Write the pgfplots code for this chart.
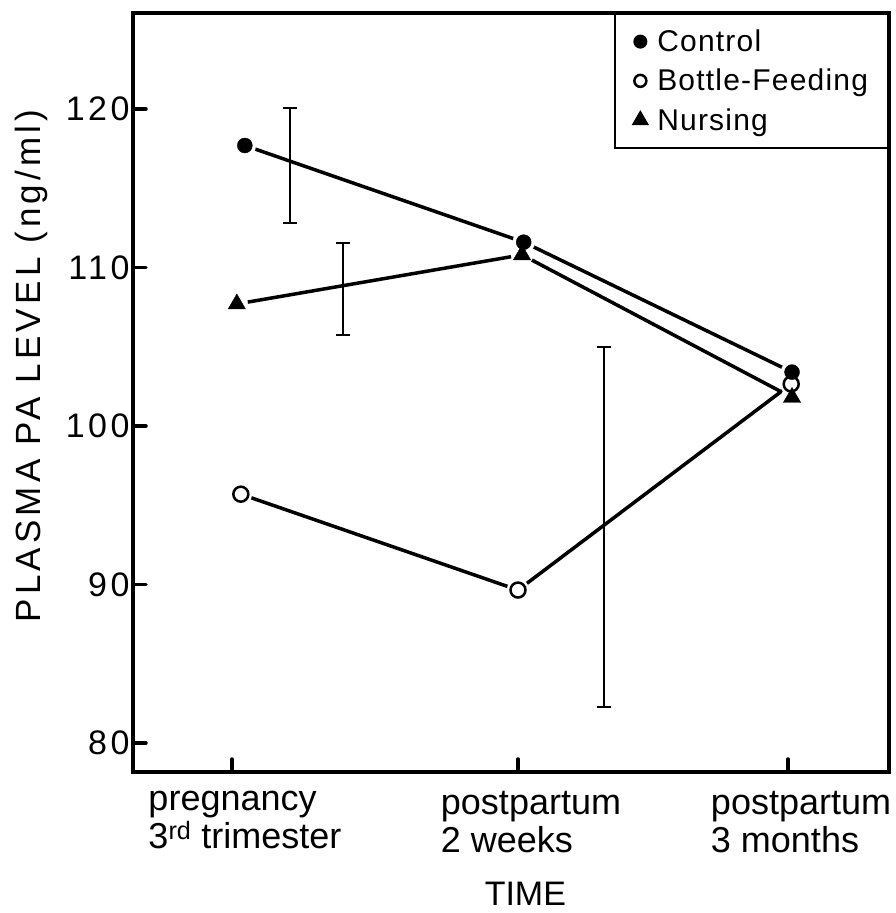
\documentclass[border=0pt]{standalone}
\usepackage{fontspec}
\setmainfont{Liberation Sans}
\newfontfamily\spacedf{Liberation Sans}[LetterSpace=12]
\newfontfamily\tickf{Liberation Sans}[LetterSpace=10]
\newfontfamily\legf{Liberation Sans}[LetterSpace=4]
\usepackage{pgfplots}
\pgfplotsset{compat=1.18}

\begin{document}
\begin{tikzpicture}
\begin{axis}[
  name=ax,
  scale only axis,
  width=756pt, height=759pt,
  xmin=-0.346, xmax=2.297,
  ymin=78.17, ymax=126.06,
  axis line style={line width=3.5pt},
  xtick={0,1,1.944},
  xticklabels={{pregnancy\\3\textsuperscript{rd} trimester},{postpartum\\2 weeks},{postpartum\\3 months}},
  ytick={80,90,100,110,120},
  tick align=inside,
  xtick pos=bottom, ytick pos=left,
  major tick length=13pt,
  tick style={line width=3.5pt, black, line cap=round},
  /pgf/number format/assume math mode=true,
  yticklabel style={font=\fontsize{34}{40}\tickf},
  xticklabel style={font=\fontsize{36}{38}\selectfont, align=left, anchor=north, xshift=13pt, yshift=-16pt},
  xlabel={TIME},
  xlabel style={font=\fontsize{34}{40}\selectfont, at={(rel axis cs:0.519,0)}, anchor=base, yshift=-133pt},
  ylabel={PLASMA PA LEVEL (ng/ml)},
  ylabel style={font=\fontsize{35}{40}\spacedf, at={(rel axis cs:-0.1217,0.535)}, anchor=base},
  legend style={at={(1,1)}, anchor=north east, draw=black, line width=2pt,
    font=\fontsize{30}{34}\legf, inner xsep=18pt, inner ysep=14pt, row sep=12pt,
    /tikz/every odd column/.style={column sep=8pt}},
  legend cell align=left,
  legend image post style={scale=0.8},
]
% connecting lines
\addplot[black, line width=3.5pt, forget plot] coordinates {(0.045,117.7) (1.02,111.6) (1.958,103.4)};
\addplot[black, line width=3.5pt, forget plot] coordinates {(0.031,95.7) (1.0,89.65) (1.955,102.65)};
\addplot[black, line width=3.5pt, forget plot] coordinates {(0.017,107.7) (1.014,110.8) (1.958,101.8)};
% white halos around the points
\addplot[only marks, mark=*, mark size=11pt, white, forget plot] coordinates {
 (0.045,117.7) (1.02,111.6) (1.958,103.4)
 (0.031,95.7) (1.0,89.65) (1.955,102.65)
 (0.017,107.7) (1.014,110.8) (1.958,101.8)};
% error bars (lower end, upper end)
\addplot[black, line width=2pt, mark=-, mark size=7pt, forget plot] coordinates {(0.203,112.81) (0.203,120.06)};
\addplot[black, line width=2pt, mark=-, mark size=7pt, forget plot] coordinates {(0.388,105.74) (0.388,111.55)};
\addplot[black, line width=2pt, mark=-, mark size=7pt, forget plot] coordinates {(1.30,82.27) (1.30,104.98)};
% markers
\addplot[only marks, mark=*, mark size=7.5pt, black, mark options={fill=black}] coordinates {(0.045,117.7) (1.02,111.6) (1.958,103.4)};
\addlegendentry{Control}
\addplot[only marks, mark=o, mark size=7.5pt, black, mark options={fill=white, line width=2.5pt}] coordinates {(0.031,95.7) (1.0,89.65) (1.955,102.65)};
\addlegendentry{Bottle-Feeding}
\addplot[only marks, mark=triangle*, mark size=10pt, black, mark options={fill=black}] coordinates {(0.017,107.7) (1.014,110.8) (1.958,101.8)};
\addlegendentry{Nursing}
\end{axis}
\pgfresetboundingbox
\path ([shift={(-133pt,-141pt)}]ax.south west) rectangle ([shift={(7pt,13pt)}]ax.north east);
\end{tikzpicture}
\end{document}
